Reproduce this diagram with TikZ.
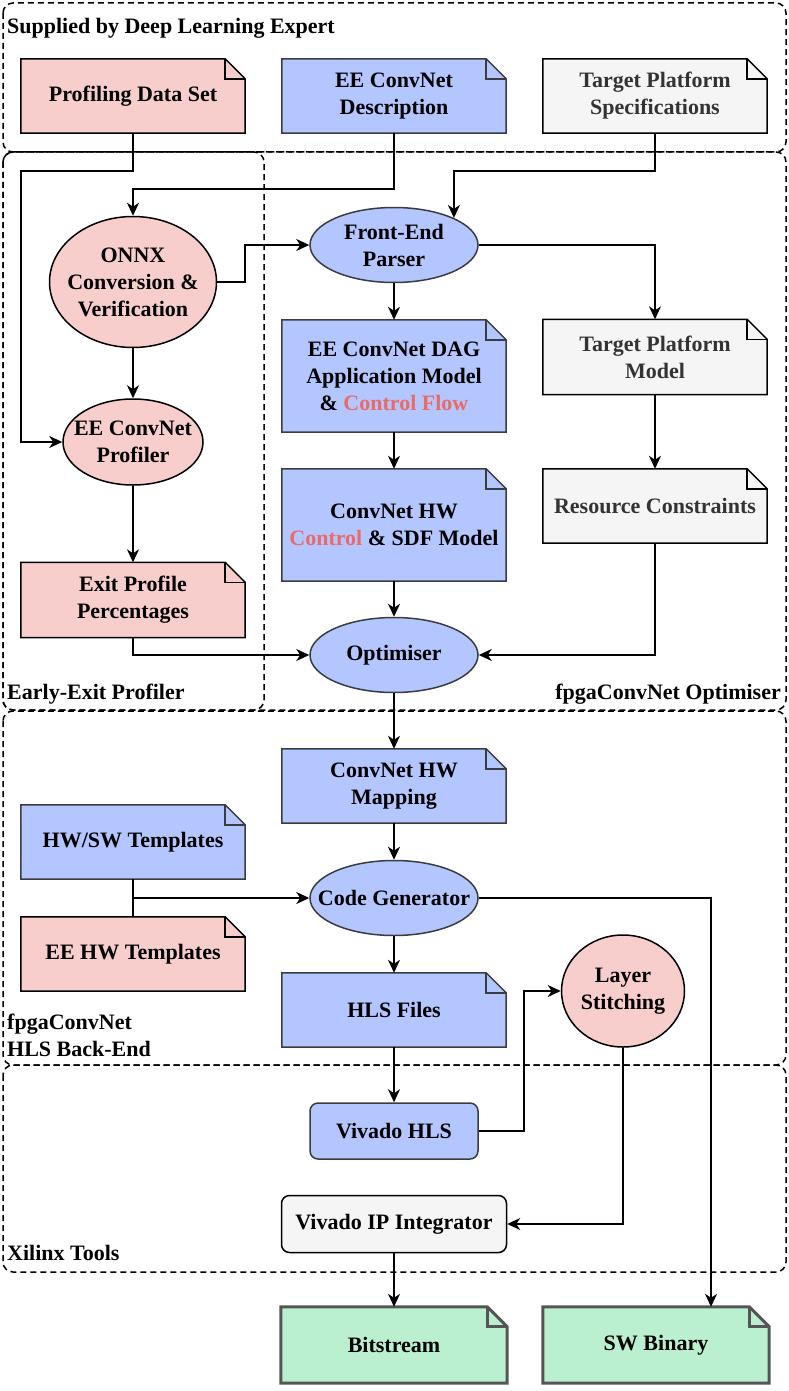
\documentclass[tikz,border=0pt]{standalone}
\usepackage{fontspec}
\setmainfont{Liberation Serif}
\usetikzlibrary{arrows.meta,backgrounds,shapes.geometric}
\definecolor{pinkf}{HTML}{F8CECC}
\definecolor{bluef}{HTML}{B3C6FF}
\definecolor{blued}{HTML}{3A3C40}
\definecolor{grayf}{HTML}{F5F5F5}
\definecolor{grayt}{HTML}{333333}
\definecolor{greenf}{HTML}{BAF0D0}
\definecolor{greend}{HTML}{555555}
\definecolor{redt}{HTML}{EA6B66}
\newcommand{\drawnote}[2]{%
  \draw[#2] (#1.south west) -- (#1.north west) -- ([xshift=-20pt]#1.north east) -- ([yshift=-20pt]#1.north east) -- (#1.south east) -- cycle;
  \draw[#2, fill=none] ([xshift=-20pt]#1.north east) -- ([xshift=-20pt,yshift=-20pt]#1.north east) -- ([yshift=-20pt]#1.north east);
}
\tikzset{
  lbl/.style={font=\bfseries\fontsize{22}{27}\selectfont, align=center, inner sep=0pt},
  notebox/.style={lbl, minimum width=224pt, minimum height=74pt},
  ellbox/.style={ellipse, draw, line width=1.5pt, inner sep=0pt},
  pinkshape/.style={fill=pinkf, draw=black, line width=1.5pt},
  blueshape/.style={fill=bluef, draw=blued, line width=1.5pt},
  grayshape/.style={fill=grayf, draw=black, line width=1.5pt},
  greenshape/.style={fill=greenf, draw=greend, line width=3pt},
  conn/.style={line width=1.6pt},
  arr/.style={line width=1.6pt, -{Stealth[length=13pt,width=12pt,inset=4pt]}},
  grp/.style={draw=black, line width=1.5pt, dash pattern=on 6pt off 4pt, rounded corners=10pt},
  grplbl/.style={font=\bfseries\fontsize{22}{27}\selectfont, align=left, inner sep=0pt}
}
\begin{document}
\begin{tikzpicture}[x=1pt,y=-1pt]
\useasboundingbox (0,0) rectangle (789,1391);

% ---------- note nodes ----------
\node[notebox] (pds) at (133,96) {Profiling Data Set};
\node[notebox] (eed) at (394,96) {EE ConvNet\\Description};
\node[notebox, text=grayt] (tps) at (655,96) {Target Platform\\Specifications};
\node[notebox, minimum height=112pt] (dag) at (394,376) {EE ConvNet DAG\\Application Model\\\& \textcolor{redt}{Control Flow}};
\node[notebox, minimum height=75pt, text=grayt] (tpm) at (655,357) {Target Platform\\Model};
\node[notebox, minimum height=112pt] (hwc) at (394,525) {ConvNet HW\\\textcolor{redt}{Control} \& SDF Model};
\node[notebox, text=grayt] (rc) at (655,506) {Resource Constraints};
\node[notebox, minimum height=75pt] (epp) at (133,600) {Exit Profile\\Percentages};
\node[notebox] (map) at (394,786) {ConvNet HW\\Mapping};
\node[notebox] (hwsw) at (133,842) {HW/SW Templates};
\node[notebox] (eeht) at (133,954) {EE HW Templates};
\node[notebox] (hls) at (394,1010) {HLS Files};
\node[notebox, minimum width=226pt, minimum height=76pt] (bit) at (394,1345) {Bitstream};
\node[notebox, minimum width=226pt, minimum height=76pt] (swb) at (656,1345) {SW Binary};

% ---------- ellipses ----------
\node[ellbox, pinkshape, minimum width=167pt, minimum height=131pt] (onnx) at (133,282) {};
\node[lbl] at (onnx) {ONNX\\Conversion \&\\Verification};
\node[ellbox, blueshape, minimum width=168pt, minimum height=75pt] (fep) at (394,245) {};
\node[lbl] at (fep) {Front-End\\Parser};
\node[ellbox, pinkshape, minimum width=140pt, minimum height=86pt] (prof) at (133,442) {};
\node[lbl] at (prof) {EE ConvNet\\Profiler};
\node[ellbox, blueshape, minimum width=168pt, minimum height=75pt] (opt) at (394,655) {};
\node[lbl] at (opt) {Optimiser};
\node[ellbox, blueshape, minimum width=168pt, minimum height=75pt] (cg) at (394,898) {};
\node[lbl] at (cg) {Code Generator};
\node[ellbox, pinkshape, minimum width=123pt, minimum height=112pt] (ls) at (623,991) {};
\node[lbl] at (ls) {Layer\\Stitching};

% ---------- rounded rectangles ----------
\node[lbl, blueshape, rounded corners=8pt, minimum width=168pt, minimum height=56pt] (vhls) at (394,1131) {Vivado HLS};
\node[lbl, grayshape, rounded corners=8pt, minimum width=225pt, minimum height=57pt] (vipi) at (394,1224) {Vivado IP Integrator};

% ---------- background: groups and notes ----------
\begin{scope}[on background layer]
  \draw[grp] (3,3) rectangle (786,152);
  \draw[grp] (3,152) rectangle (786,710);
  \draw[grp] (3,152) rectangle (264,710);
  \draw[grp] (3,711) rectangle (786,1065);
  \draw[grp] (3,1065) rectangle (786,1272);
  \drawnote{pds}{pinkshape}
  \drawnote{eed}{blueshape}
  \drawnote{tps}{grayshape}
  \drawnote{dag}{blueshape}
  \drawnote{tpm}{grayshape}
  \drawnote{hwc}{blueshape}
  \drawnote{rc}{grayshape}
  \drawnote{epp}{pinkshape}
  \drawnote{map}{blueshape}
  \drawnote{hwsw}{blueshape}
  \drawnote{eeht}{pinkshape}
  \drawnote{hls}{blueshape}
  \drawnote{bit}{greenshape}
  \drawnote{swb}{greenshape}
\end{scope}

% ---------- group labels ----------
\node[grplbl, anchor=west] (g1) at (7,28) {Supplied by Deep Learning Expert};
\node[grplbl, anchor=west] (g2) at (7,694) {Early-Exit Profiler};
\node[grplbl, anchor=east] (g3) at (781,694) {fpgaConvNet Optimiser};
\node[grplbl, anchor=west] (g4) at (7,1035) {fpgaConvNet\\HLS Back-End};
\node[grplbl, anchor=west] (g5) at (7,1253) {Xilinx Tools};

% ---------- connectors ----------
\coordinate (c1) at (133,171);
\coordinate (c2) at (21,171);
\draw[arr] (pds.south) -- (c1) -- (c2) |- (prof.west);
\coordinate (c3) at (394,189);
\draw[arr] (eed.south) -- (c3) -| (onnx.north);
\coordinate (c4) at (655,171);
\draw[arr] (tps.south) -- (c4) -| (fep.north east);
\coordinate (c5) at (245,282);
\draw[arr] (onnx.east) -- (c5) |- (fep.west);
\draw[arr] (fep.east) -| (tpm.north);
\draw[arr] (fep.south) -- (dag.north);
\draw[arr] (onnx.south) -- (prof.north);
\draw[arr] (dag.south) -- (hwc.north);
\draw[arr] (tpm.south) -- (rc.north);
\draw[arr] (prof.south) -- (epp.north);
\draw[arr] (hwc.south) -- (opt.north);
\draw[arr] (epp.south) |- (opt.west);
\draw[arr] (rc.south) |- (opt.east);
\draw[arr] (opt.south) -- (map.north);
\draw[arr] (map.south) -- (cg.north);
\draw[conn] (hwsw.south) -- (eeht.north);
\draw[arr] (hwsw.south |- cg.west) -- (cg.west);
\coordinate (c6) at (711,898);
\draw[arr] (cg.east) -- (c6) -- (c6 |- swb.north);
\draw[arr] (cg.south) -- (hls.north);
\draw[arr] (hls.south) -- (vhls.north);
\coordinate (c7) at (524,1131);
\draw[arr] (vhls.east) -- (c7) |- (ls.west);
\draw[arr] (ls.south) |- (vipi.east);
\draw[arr] (vipi.south) -- (bit.north);
\end{tikzpicture}
\end{document}
